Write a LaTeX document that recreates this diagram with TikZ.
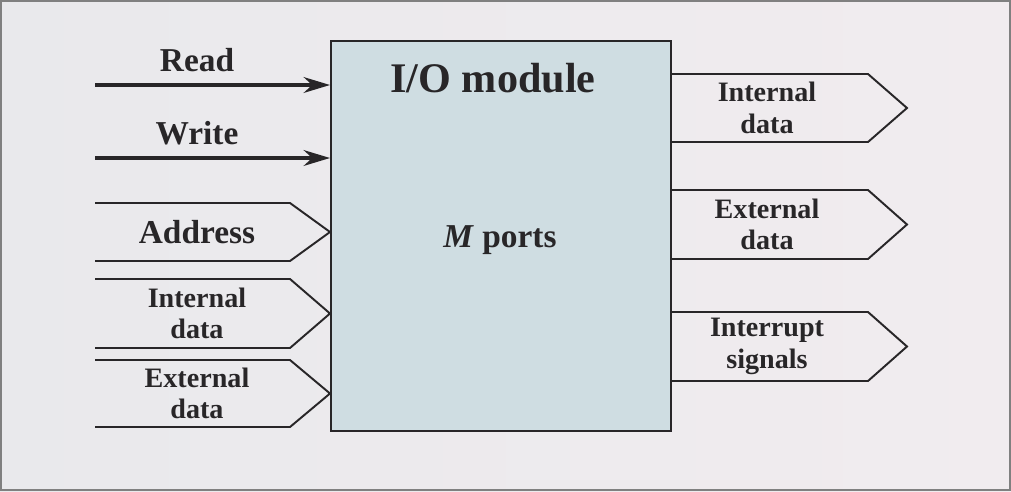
\documentclass[tikz,border=0pt]{standalone}
\usepackage{fontspec}
\setmainfont{Liberation Serif}[BoldFont={Liberation Serif Bold},
  ItalicFont={Liberation Serif Italic},BoldItalicFont={Liberation Serif Bold Italic}]
\usetikzlibrary{positioning,arrows.meta}
\definecolor{sfondo}{RGB}{233,233,236}
\definecolor{sfondodx}{RGB}{241,236,239}
\definecolor{modulo}{RGB}{207,221,226}
\definecolor{tratto}{RGB}{40,38,40}
\begin{document}
\begin{tikzpicture}[x=0.02cm,y=-0.02cm,line width=1.1pt,draw=tratto,text=tratto,
    grande/.style={font=\rmfamily\fontsize{19}{21}\selectfont\bfseries},
    piccolo/.style={font=\rmfamily\fontsize{16}{18}\selectfont\bfseries,align=center},
    freccia/.style={-{Stealth[length=15pt,width=9pt]},line width=1.8pt}]
\useasboundingbox (0,0) rectangle (1011,491);
\shade[left color=sfondo,right color=sfondodx] (0,0) rectangle (1011,491); % sfondo
\draw[gray,line width=1.3pt] (0.7,0.7) rectangle (1010.3,490.3); % cornice

\node[draw,fill=modulo,minimum width=6.8cm,minimum height=7.8cm,anchor=north west,
      inner sep=0pt] (mod) at (330,40) {}; % modulo I/O
\node[font=\rmfamily\fontsize{24}{26}\selectfont\bfseries] (titolo) at (493,78) {I/O module};
\node[grande] (porte) at (500,240) {\textit{M} ports};

% segnali di controllo
\coordinate (r0) at (95,85);
\coordinate (w0) at (95,158);
\draw[freccia] (r0) -- (r0 -| mod.west) coordinate (r1);
\draw[freccia] (w0) -- (w0 -| mod.west) coordinate (w1);
\node[grande] (read) at (197,60) {Read};
\node[grande] (write) at (197,133) {Write};

% ingressi a freccia larga
\foreach \nome/\yt/\yb/\testo/\stile in {ind/203/261/Address/grande,
    intin/279/348/{Internal\\data}/piccolo,
    extin/360/427/{External\\data}/piccolo}{
  \coordinate (\nome) at (330,{(\yt+\yb)/2}); % punta
  \draw (95,\yt) -- (290,\yt) -- (\nome) -- (290,\yb) -- (95,\yb);
  \node[\stile,align=center] (\nome-t) at (197,{(\yt+\yb)/2}) {\testo};
}

% uscite a freccia larga
\foreach \nome/\yt/\yb/\testo in {intout/74/142/{Internal\\data},
    extout/190/259/{External\\data},
    irq/312/381/{Interrupt\\signals}}{
  \coordinate (\nome) at (907,{(\yt+\yb)/2}); % punta
  \draw (670,\yt) -- (868,\yt) -- (\nome) -- (868,\yb) -- (670,\yb);
  \node[piccolo] (\nome-t) at (767,{(\yt+\yb)/2}) {\testo};
}
\end{tikzpicture}
\end{document}
